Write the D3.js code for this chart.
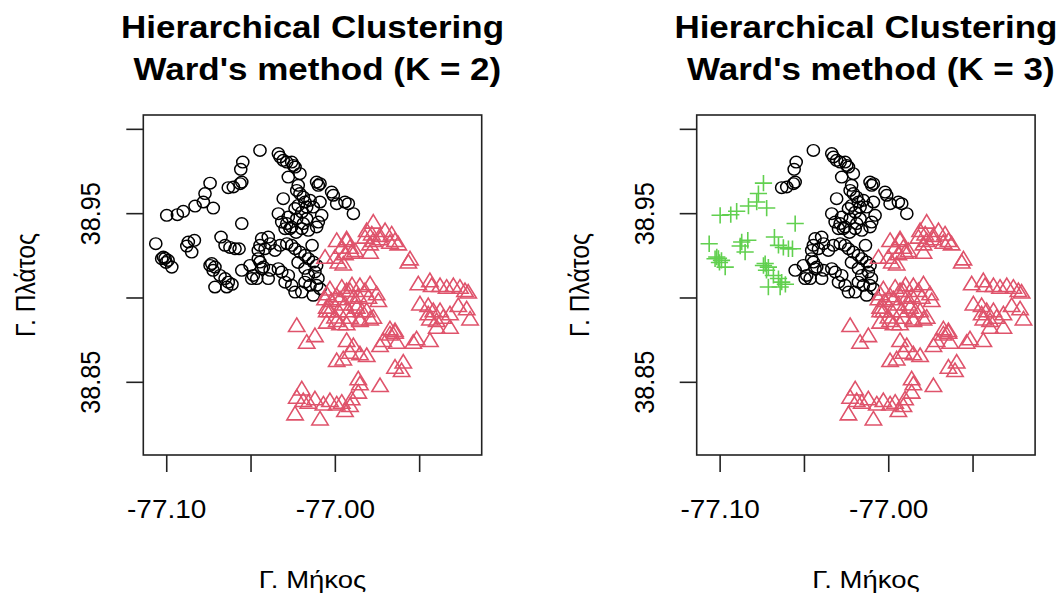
<!DOCTYPE html>
<html><head><meta charset="utf-8">
<script src="https://cdn.jsdelivr.net/npm/d3@7"></script>
<style>body{margin:0;background:#fff}svg{display:block}</style>
</head><body>
<svg id="chart" width="1057" height="598"></svg>
<script>
// Cluster "west" (black in K=2, green in K=3)
const westLon=[-77.1000,-77.0937,-77.0902,-77.0832,-77.0783,-77.0773,-77.0743,-77.0724,-77.1065,-77.1030,-77.1020,-77.1010,-77.0992,-77.0970,-77.1004,-77.0881,-77.0872,-77.0836,-77.0852,-77.0678,-77.0654,-77.0595,-77.0571,-77.0625,-77.0555,-77.0733,-77.0714,-77.0743,-77.0684,-77.0654,-77.0635,-77.0714,-77.0644,-77.0725,-77.0613];
const westLat=[38.9490,38.9494,38.9514,38.9545,38.9569,38.9619,38.9681,38.9533,38.9322,38.9233,38.9243,38.9235,38.9223,38.9183,38.9211,38.9308,38.9332,38.9342,38.9272,38.9361,38.9312,38.9292,38.9292,38.9300,38.9441,38.9204,38.9183,38.9193,38.9134,38.9115,38.9094,38.9065,38.9065,38.9164,38.9081];
// Cluster "central" (black in both)
const centralLon=[
-77.0447,-77.0549,-77.0561,-77.0555,-77.0565,-77.0605,-77.0635,-77.0338,-77.0328,-77.0309,
-77.0288,-77.0259,-77.0249,-77.0239,-77.0279,-77.0210,-77.0111,-77.0091,-77.0101,-77.0022,
-77.0012,-76.9992,-76.9943,-76.9923,-76.9893,-77.0220,-77.0229,-77.0210,-77.0190,-77.0180,
-77.0220,-77.0239,-77.0199,-77.0170,-77.0150,-77.0131,-77.0091,-77.0081,-77.0101,-77.0170,
-77.0190,-77.0229,-77.0279,-77.0288,-77.0309,-77.0338,-77.0318,-77.0269,-77.0298,-77.0259,
-77.0199,-77.0160,-77.0111,-77.0437,-77.0398,-77.0387,-77.0417,-77.0457,-77.0358,-77.0328,
-77.0288,-77.0259,-77.0239,-77.0210,-77.0180,-77.0160,-77.0131,-77.0111,-77.0121,-77.0160,
-77.0180,-77.0150,-77.0111,-77.0091,-77.0199,-77.0239,-77.0279,-77.0318,-77.0338,-77.0387,
-77.0398,-77.0298,-77.0259,-77.0437,-77.0466,-77.0555,-77.0506,-77.0486,-77.0496,-77.0447,
-77.0457,-77.0427,-77.0447,-77.0131,-77.0138,-77.0180,-77.0221,-77.0103,-77.0233];
const centralLat=[
38.9875,38.9806,38.9763,38.9687,38.9678,38.9658,38.9654,38.9856,38.9836,38.9816,
38.9806,38.9806,38.9786,38.9776,38.9717,38.9737,38.9687,38.9678,38.9668,38.9628,
38.9609,38.9559,38.9569,38.9559,38.9500,38.9668,38.9638,38.9619,38.9598,38.9569,
38.9549,38.9530,38.9509,38.9539,38.9579,38.9539,38.9569,38.9490,38.9450,38.9470,
38.9441,38.9470,38.9480,38.9441,38.9589,38.9500,38.9450,38.9411,38.9411,38.9421,
38.9411,38.9401,38.9421,38.9352,38.9361,38.9322,38.9292,38.9282,38.9282,38.9312,
38.9322,38.9312,38.9292,38.9272,38.9253,38.9233,38.9213,38.9193,38.9154,38.9134,
38.9094,38.9075,38.9075,38.9055,38.9035,38.9035,38.9134,38.9154,38.9174,38.9164,
38.9115,38.9094,38.9075,38.9174,38.9115,38.9164,38.9193,38.9134,38.9115,38.9213,
38.9233,38.9183,38.9312,38.9016,38.9312,38.9176,38.9211,38.9116,38.9389];
// Cluster "east" (red in both)
const eastLon=[
-76.9775,-76.9814,-76.9784,-76.9735,-76.9705,-76.9666,-76.9646,-76.9627,-76.9775,-76.9735,
-76.9676,-76.9794,-76.9933,-76.9913,-76.9903,-76.9943,-76.9557,-76.9567,-76.9508,-76.9439,
-76.9429,-76.9379,-76.9340,-76.9300,-76.9261,-76.9231,-76.9212,-76.9498,-76.9449,-76.9419,
-76.9449,-76.9439,-76.9399,-76.9360,-76.9320,-76.9379,-76.9271,-76.9221,-76.9201,-76.9320,
-76.9399,-76.9794,-76.9755,-76.9745,-76.9854,-76.9913,-76.9893,-76.9943,-76.9873,-76.9814,
-76.9775,-76.9854,-76.9913,-76.9933,-76.9676,-76.9646,-76.9518,-76.9439,-76.9992,-76.9962,
-76.9933,-76.9883,-76.9824,-76.9794,-77.0002,-76.9982,-76.9953,-77.0061,-77.0051,-77.0022,
-76.9992,-76.9962,-76.9933,-76.9864,-76.9824,-76.9804,-76.9883,-76.9982,-77.0051,-77.0229,
-77.0170,-77.0121,-77.0051,-76.9992,-77.0051,-76.9854,-76.9933,-76.9893,-76.9913,-76.9854,
-76.9814,-76.9992,-76.9953,-76.9716,-76.9676,-76.9646,-76.9735,-76.9636,-76.9538,-76.9646,
-76.9597,-76.9607,-76.9864,-76.9854,-76.9735,-76.9864,-76.9903,-77.0199,-77.0229,-77.0239,
-77.0190,-77.0160,-77.0121,-77.0071,-77.0032,-76.9992,-76.9962,-76.9943,-77.0091,-76.9913,
-76.9972,-76.9925,-77.0002,-76.9842,-77.0032,-77.0032,-76.9901,-76.9794,-76.9972,-77.0061];
const eastLat=[
38.9441,38.9391,38.9371,38.9361,38.9391,38.9371,38.9332,38.9312,38.9332,38.9342,
38.9322,38.9263,38.9332,38.9292,38.9263,38.9253,38.9223,38.9204,38.9075,38.9094,
38.9065,38.9065,38.9055,38.9065,38.9055,38.9035,38.9026,38.8956,38.8946,38.8916,
38.8897,38.8867,38.8857,38.8877,38.8897,38.8916,38.8946,38.8927,38.8867,38.8818,
38.8818,38.9075,38.9016,38.8976,38.9065,38.9035,38.8996,38.8956,38.8937,38.8916,
38.8877,38.8867,38.8877,38.8838,38.8808,38.8788,38.8749,38.8739,38.9332,38.9292,
38.9342,38.9272,38.9352,38.9312,38.9233,38.9204,38.9193,38.9233,38.8937,38.8976,
38.9005,38.9055,38.9035,38.9005,38.9035,38.8996,38.8956,38.8916,38.9016,38.8828,
38.8729,38.8768,38.8916,38.8857,38.8848,38.8857,38.8739,38.8709,38.8670,38.8660,
38.8650,38.8620,38.8630,38.8739,38.8778,38.8798,38.8709,38.8729,38.8729,38.8581,
38.8611,38.8561,38.8512,38.8482,38.8472,38.8433,38.8393,38.8452,38.8403,38.8304,
38.8383,38.8373,38.8393,38.8363,38.8383,38.8363,38.8373,38.8324,38.8274,38.8353,
38.8986,38.8915,38.8879,38.8915,38.9045,38.8915,38.9069,38.8867,38.8838,38.8986];

const xTicks=[-77.10,-77.05,-77.00,-76.95];
const xTickLabels=["-77.10","","-77.00",""];
const yTicks=[38.85,38.90,38.95,39.00];
const yTickLabels=["38.85","","38.95",""];
const xLimits=[-77.1139,-76.9132];
const yLimits=[38.8069,39.0085];
const titleLine1="Hierarchical Clustering";
const titleLine2=[" Ward's method (K = 2)"," Ward's method (K = 3)"];
const xLabel="Γ. Μήκος";
const yLabel="Γ. Πλάτος";

const BLACK="#000000", RED="#DF536B", GREEN="#61D04F";
const panels=[
  {left:143.3, title2:titleLine2[0], groups:[
    {lon:westLon, lat:westLat, shape:"circle", color:BLACK},
    {lon:centralLon, lat:centralLat, shape:"circle", color:BLACK},
    {lon:eastLon, lat:eastLat, shape:"triangle", color:RED}]},
  {left:696.7, title2:titleLine2[1], groups:[
    {lon:westLon, lat:westLat, shape:"cross", color:GREEN},
    {lon:centralLon, lat:centralLat, shape:"circle", color:BLACK},
    {lon:eastLon, lat:eastLat, shape:"triangle", color:RED}]}
];

const SQ=0.9;            // vertical squash of the original raster
const W=338.4, TOP=115, BOTTOM=455;
const FONT="'Liberation Sans', Arial, Helvetica, sans-serif";
const svg=d3.select("#chart");

const R0=6.1;
const shapes={
  triangle:`M0,${-1.5551*R0}L${1.3468*R0},${0.7776*R0}L${-1.3468*R0},${0.7776*R0}Z`,
  cross:`M${-1.4142*R0},0H${1.4142*R0}M0,${-1.4142*R0}V${1.4142*R0}`
};

function label(g,x,y,str,size,opts={}){
  return g.append("text")
    .attr("transform",`translate(${x},${y}) scale(1,${SQ})`+(opts.rot?" rotate(-90)":""))
    .attr("text-anchor","middle")
    .attr("font-family",FONT)
    .attr("font-size",size)
    .attr("font-weight",opts.bold?"bold":"normal")
    .attr("fill","#000")
    .style("white-space","pre")
    .text(str);
}

panels.forEach(p=>{
  const x=d3.scaleLinear().domain(xLimits).range([p.left,p.left+W]);
  const y=d3.scaleLinear().domain(yLimits).range([BOTTOM,TOP]);
  const g=svg.append("g");
  const cx=p.left+W/2;

  p.groups.forEach(gr=>{
    const data=gr.lon.map((v,i)=>({lon:v,lat:gr.lat[i]}));
    const sel=g.append("g").selectAll("g").data(data).join("g")
      .attr("transform",d=>`translate(${x(d.lon)},${y(d.lat)}) scale(1,0.95)`);
    if(gr.shape==="circle"){
      sel.append("circle").attr("r",R0).attr("fill","none")
        .attr("stroke",gr.color).attr("stroke-width",1.5);
    }else{
      sel.append("path").attr("d",shapes[gr.shape]).attr("fill","none")
        .attr("stroke",gr.color).attr("stroke-width",1.6);
    }
  });

  g.append("rect").attr("x",p.left).attr("y",TOP).attr("width",W).attr("height",BOTTOM-TOP)
    .attr("fill","none").attr("stroke","#222").attr("stroke-width",1.6);

  g.append("g").selectAll("line").data(xTicks).join("line")
    .attr("x1",d=>x(d)).attr("x2",d=>x(d)).attr("y1",BOTTOM).attr("y2",BOTTOM+17)
    .attr("stroke","#222").attr("stroke-width",1.6);
  xTicks.forEach((d,i)=>{ if(xTickLabels[i]) label(g,x(d),518,xTickLabels[i],28); });

  g.append("g").selectAll("line").data(yTicks).join("line")
    .attr("x1",p.left).attr("x2",p.left-17).attr("y1",d=>y(d)).attr("y2",d=>y(d))
    .attr("stroke","#222").attr("stroke-width",1.6);
  yTicks.forEach((d,i)=>{ if(yTickLabels[i]) label(g,p.left-43,y(d),yTickLabels[i],28,{rot:true}); });

  label(g,cx,38,titleLine1,35,{bold:true});
  label(g,cx,80,p.title2,35,{bold:true});
  label(g,cx,588,xLabel,27.5);
  label(g,p.left-108,(TOP+BOTTOM)/2,yLabel,27.5,{rot:true});
});
</script>
</body></html>
